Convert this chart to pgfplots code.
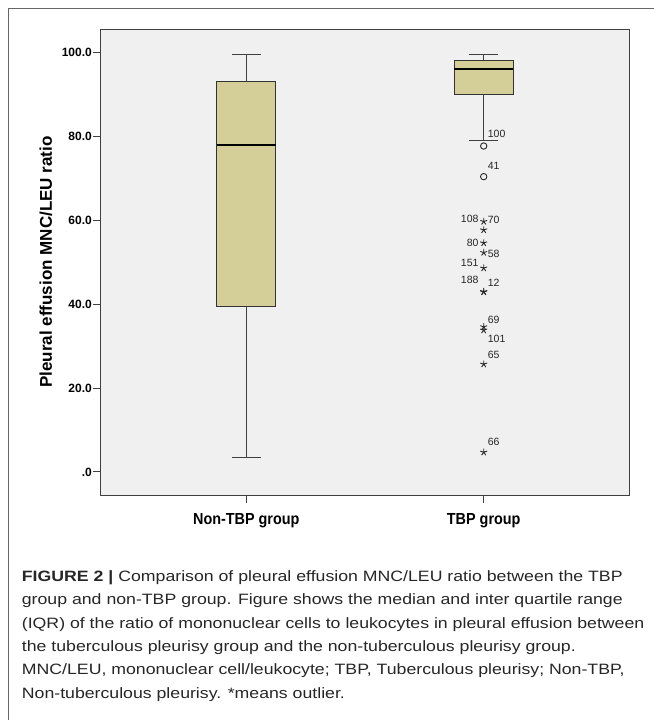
\documentclass[border=0pt]{standalone}
\usepackage{fontspec}
\setmainfont{Liberation Sans}
\newfontfamily\capfont[FakeStretch=1.18]{Liberation Sans}
\newfontfamily\catfont[FakeStretch=0.9]{Liberation Sans}
\usepackage{pgfplots}
\usepackage{pgfplotstable}
\pgfplotsset{compat=1.18}

\definecolor{boxfill}{HTML}{D4CF99}
\definecolor{plotbg}{HTML}{F0F0F0}

% outlier case numbers, dy = baseline offset of the label from the mark
\pgfplotstableread{
x y lab dy
2 59.7 108 -1.6
2 54.6 80 -3.7
2 48.6 151 1.7
2 43.0 188 7.3
}\leftlabels
\pgfplotstableread{
x y lab dy
2 77.7 100 8.7
2 70.4 41 7.4
2 57.7 70 5.7
2 52.3 58 -5.0
2 42.9 12 5.7
2 34.6 69 3.3
2 33.8 101 -12.3
2 25.7 65 5.7
2 4.7 66 6.3
}\rightlabels

\begin{document}
\begin{tikzpicture}
\path[use as bounding box] (0,0) rectangle (654bp,-720bp);
\begin{axis}[
    at={(101bp,-495bp)}, anchor=south west,
    width=528bp, height=466bp, scale only axis,
    xmin=0.388, xmax=2.612,
    ymin=-5.5, ymax=105.6,
    axis background/.style={fill=plotbg},
    axis line style={draw=black!75, line width=1bp},
    tick align=outside,
    xtick pos=left, ytick pos=left,
    major tick length=8bp,
    tick style={draw=black!75, line width=1bp},
    xtick={1,2},
    xticklabels={Non-TBP group, TBP group},
    ytick={0,20,40,60,80,100},
    yticklabels={.0,20.0,40.0,60.0,80.0,100.0},
    yticklabel style={font=\bfseries\fontsize{12bp}{13bp}\selectfont, inner sep=1bp},
    xticklabel style={font=\catfont\bfseries\fontsize{16bp}{17bp}\selectfont, yshift=-7bp},
    ylabel={Pleural effusion MNC/LEU ratio},
    ylabel style={at={(axis description cs:-0.0928,0.5)}, anchor=base, rotate=0,
        font=\bfseries\fontsize{17bp}{18bp}\selectfont},
    clip=false,
]
% Non-TBP group
\addplot[draw=black!75, line width=1bp] coordinates {(1,3.5) (1,39.5)};
\addplot[draw=black!75, line width=1bp] coordinates {(1,93.1) (1,99.6)};
\addplot[draw=black!75, line width=1bp] coordinates {(0.94,3.5) (1.06,3.5)};
\addplot[draw=black!75, line width=1bp] coordinates {(0.94,99.6) (1.06,99.6)};
\addplot[fill=boxfill, draw=black!80, line width=1bp]
    coordinates {(0.875,39.5) (1.125,39.5) (1.125,93.1) (0.875,93.1)} -- cycle;
\addplot[draw=black, line width=2.2bp] coordinates {(0.875,77.9) (1.125,77.9)};
% TBP group
\addplot[draw=black!75, line width=1bp] coordinates {(2,79.0) (2,90.0)};
\addplot[draw=black!75, line width=1bp] coordinates {(2,98.0) (2,99.5)};
\addplot[draw=black!75, line width=1bp] coordinates {(1.94,79.0) (2.06,79.0)};
\addplot[draw=black!75, line width=1bp] coordinates {(1.94,99.5) (2.06,99.5)};
\addplot[fill=boxfill, draw=black!80, line width=1bp]
    coordinates {(1.875,90.0) (2.125,90.0) (2.125,98.0) (1.875,98.0)} -- cycle;
\addplot[draw=black, line width=2.2bp] coordinates {(1.875,96.1) (2.125,96.1)};

% outliers: circles and extremes
\addplot[only marks, mark=o, mark size=3.2bp, black!85, line width=0.9bp]
    coordinates {(2,77.7) (2,70.4)};
\addplot[only marks, mark=star, mark size=3.6bp, black!85, line width=0.9bp]
    coordinates {(2,59.7) (2,57.7) (2,54.6) (2,52.3) (2,48.6) (2,43.0) (2,42.9)
                 (2,34.6) (2,33.8) (2,25.7) (2,4.7)};

\addplot[draw=none, mark=none, point meta=explicit symbolic, nodes near coords,
    visualization depends on={\thisrow{dy}\as\mydy},
    every node near coord/.append style={anchor=south east, xshift=-5bp, yshift=\mydy bp,
        inner sep=0pt, black!85, font=\fontsize{10.5bp}{11bp}\selectfont}]
    table[x=x, y=y, meta=lab] {\leftlabels};
\addplot[draw=none, mark=none, point meta=explicit symbolic, nodes near coords,
    visualization depends on={\thisrow{dy}\as\mydy},
    every node near coord/.append style={anchor=south west, xshift=4bp, yshift=\mydy bp,
        inner sep=0pt, black!85, font=\fontsize{10.5bp}{11bp}\selectfont}]
    table[x=x, y=y, meta=lab] {\rightlabels};
\end{axis}

\draw[black!60, line width=1bp] (8bp,-720bp) -- (8bp,-8bp) -- (654bp,-8bp);

% anchor base of a multi-line node is the baseline of its last line
\node[anchor=base west, inner sep=0pt, align=left, text=black!85,
      font=\capfont\fontsize{15bp}{23.3bp}\selectfont] at (21.7bp,-698bp)
{\textbf{FIGURE 2 |} Comparison of pleural effusion MNC/LEU ratio between the TBP\\
group and non-TBP group. Figure shows the median and inter quartile range\\
(IQR) of the ratio of mononuclear cells to leukocytes in pleural effusion between\\
the tuberculous pleurisy group and the non-tuberculous pleurisy group.\\
MNC/LEU, mononuclear cell/leukocyte; TBP, Tuberculous pleurisy; Non-TBP,\\
Non-tuberculous pleurisy. *means outlier.};
\end{tikzpicture}
\end{document}
